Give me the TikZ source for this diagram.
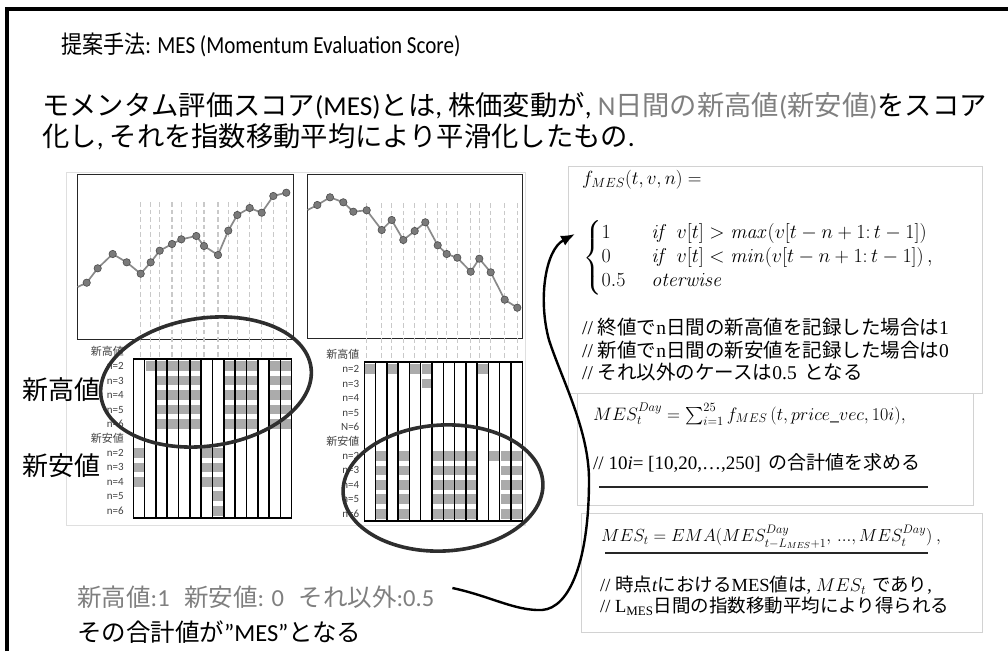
\RequirePackage{fix-cm}
\documentclass[tikz,border=0pt]{standalone}
\usepackage{amsmath}
\usepackage[no-math]{fontspec}
\setmainfont{Carlito}
\newfontfamily\jp{Noto Sans CJK JP}
\newfontfamily\ttlf[FakeStretch=0.86]{Carlito}
\newfontfamily\ttlj[FakeStretch=0.86]{Noto Sans CJK JP}
\newfontfamily\srf{Liberation Serif}
\usetikzlibrary{arrows.meta,calc}
\definecolor{txtgray}{HTML}{7F7F7F}
\definecolor{cellgray}{HTML}{ABABAB}
\definecolor{dashgray}{HTML}{C9C9C9}
\definecolor{ptfill}{HTML}{7A7A7A}
\definecolor{linegray}{HTML}{8A8A8A}
\definecolor{boxgray}{HTML}{D2D2D2}
\definecolor{lblgray}{HTML}{404040}
\newcommand{\fsz}[2]{\fontsize{#1}{#2}\selectfont}
\tikzset{
  txt/.style={inner sep=0pt, anchor=west},
  lbl/.style={inner sep=0pt, anchor=east, text=lblgray, font=\fsz{11}{12}},
  gline/.style={line width=1.5pt},
  cellfill/.style={fill=cellgray},
  dashv/.style={draw=dashgray, line width=1.3pt, dash pattern=on 4.5pt off 3pt},
  priceline/.style={draw=linegray, line width=1.7pt},
  dotpt/.style={fill=ptfill, draw=black!70, line width=0.6pt},
  ring/.style={draw=black!82, line width=3.6pt},
  chartbox/.style={draw=black!85, line width=1.2pt, inner sep=0pt, anchor=north west},
  fbox/.style={draw=boxgray, line width=0.9pt, fill=white, inner sep=0pt, anchor=north west},
  arrowc/.style={draw=black, line width=2.4pt, -{Latex[length=14pt,width=11pt]}},
  uline/.style={draw=black!85, line width=2.6pt},
}
\begin{document}
\begin{tikzpicture}[x=1pt,y=-1pt]
\useasboundingbox (0,0) rectangle (1008,651);
% frame
\draw[line width=4pt] (7,651) -- (7,9) -- (1008,9);

% headings
\node[txt, font=\fsz{24.5}{27}\ttlf] (title) at (61,45) {{\ttlj 提案手法}: MES (Momentum Evaluation Score)};
\node[txt, font=\fsz{27.3}{30}] (l2) at (42,106) {{\jp モメンタム評価スコア}(MES){\jp とは}, {\jp 株価変動が}, \textcolor{txtgray}{N{\jp 日間の新高値}({\jp 新安値})}{\jp をスコア}};
\node[txt, font=\fsz{27.3}{30}] (l3) at (42,137) {{\jp 化し}, {\jp それを指数移動平均により平滑化したもの}.};

% image panel
\draw[draw=gray!25, line width=0.6pt] (66,172) rectangle (525,525);

% ---- left chart
\node[chartbox, minimum width=216pt, minimum height=165pt] (chA) at (77,174) {};
\foreach \x in {140.7,150.7,159.7,172,181.3,196.3,204,218,228.3,237.3,249.7,261.7,273.3,286.3}
  \draw[dashv] (\x,202) -- (\x,359);
\draw[priceline] plot coordinates {(77.6,287) (86.7,282.7) (97.7,268.3) (112.7,254) (126.7,262.3) (140.7,273.7) (150.7,262.3) (159.7,250.7) (172,244) (181.3,239.3) (196.3,236) (204,246) (218,255) (228.3,230.7) (237.3,215) (249.7,208) (261.7,212.7) (273.3,196) (286.3,192.7)};
\foreach \x/\y in {86.7/282.7,97.7/268.3,112.7/254,126.7/262.3,140.7/273.7,150.7/262.3,159.7/250.7,172/244,181.3/239.3,196.3/236,204/246,218/255,228.3/230.7,237.3/215,249.7/208,261.7/212.7,273.3/196,286.3/192.7}
  \draw[dotpt] (\x,\y) circle[radius=3.7];

% left grid cells
\foreach \r/\cols in {0/{1,2,3,4,5,8,9,10,12,13},1/{2,3,4,5,8,9,10,12,13},2/{2,3,4,5,8,9,10,12,13},3/{2,3,4,5,8,9,10,12,13},4/{2,3,4,5,8,9,10,12,13},6/{0,6,7},7/{0,6,7},8/{0,6,7},9/{7},10/{7}}
  \foreach \c in \cols
    \fill[cellfill] ({133.3+11.314*\c+0.9},{359+14.45*\r+2.4}) rectangle ++(9.8,9.6);
\draw[gline] (133.3,359) rectangle (291.7,518);
\foreach \i in {1,...,13}
  \draw[gline] ({133.3+11.314*\i},359) -- ({133.3+11.314*\i},518);
\foreach \r/\t in {-1/{\jp 新高値},0/n=2,1/n=3,2/n=4,3/n=5,4/n=6,5/{\jp 新安値},6/n=2,7/n=3,8/n=4,9/n=5,10/n=6}
  \node[lbl] (lA\r) at (124,{359+14.45*(\r+0.5)}) {\t};

% ---- right chart
\node[chartbox, minimum width=215pt, minimum height=164pt] (chB) at (307,174) {};
\foreach \x in {366.7,381.7,391.7,403.3,414.7,425.3,437.7,446.7,457.3,470.7,479.3,490.7,504.7,517.3}
  \draw[dashv] (\x,203) -- (\x,362);
\draw[priceline] plot coordinates {(307.6,210) (317.3,205) (330,197.3) (343.3,202.3) (353.3,211.7) (366.7,210.3) (381.7,230) (391.7,220) (403.3,240) (414.7,231) (425.3,222.3) (437.7,245.3) (446.7,254) (457.3,257.7) (470.7,271.7) (479.3,258.7) (490.7,272.3) (504.7,299.7) (517.3,307.7)};
\foreach \x/\y in {317.3/205,330/197.3,343.3/202.3,353.3/211.7,366.7/210.3,381.7/230,391.7/220,403.3/240,414.7/231,425.3/222.3,437.7/245.3,446.7/254,457.3/257.7,470.7/271.7,479.3/258.7,490.7/272.3,504.7/299.7,517.3/307.7}
  \draw[dotpt] (\x,\y) circle[radius=3.7];

\foreach \r/\cols in {0/{0,2,4,5,10},1/{5},6/{1,3,6,7,8,9,11,12,13},7/{1,3,6,7,8,9,12,13},8/{1,3,6,7,8,9,12,13},9/{1,3,6,7,8,9,12,13},10/{1,3,6,7,8,9,12,13}}
  \foreach \c in \cols
    \fill[cellfill] ({364.3+11.286*\c+0.9},{362+14.45*\r+2.4}) rectangle ++(9.8,9.6);
\draw[gline] (364.3,362) rectangle (522.3,521);
\foreach \i in {1,...,13}
  \draw[gline] ({364.3+11.286*\i},362) -- ({364.3+11.286*\i},521);
\foreach \r/\t in {-1/{\jp 新高値},0/n=2,1/n=3,2/n=4,3/n=5,4/N=6,5/{\jp 新安値},6/n=2,7/n=3,8/n=4,9/n=5,10/n=6}
  \node[lbl] (lB\r) at (359.5,{362+14.45*(\r+0.5)}) {\t};

% ellipses
\draw[ring, rotate around={8:(206,382)}] (206,382) ellipse [x radius=106, y radius=64];
\draw[ring, rotate around={3:(443,488)}] (443,488) ellipse [x radius=100, y radius=63];

% big labels
\node[txt, font=\fsz{26}{28}] (bigH) at (22,390) {\jp 新高値};
\node[txt, font=\fsz{26}{28}] (bigL) at (22,466) {\jp 新安値};

% bottom text
\node[txt, font=\fsz{24.5}{27}, text=txtgray] (bt1) at (77,597) {{\jp 新高値}:1\hspace{9pt} {\jp 新安値}: 0\hspace{9pt} {\jp それ以外}:0.5};
\node[txt, font=\fsz{24.5}{27}] (bt2) at (77,632) {{\jp その合計値が}”MES”{\jp となる}};

% formula boxes
\node[fbox, minimum width=414pt, minimum height=227pt] (fb1) at (568,166) {};
\node[fbox, minimum width=396pt, minimum height=112pt] (fb2) at (577,393) {};
\node[fbox, minimum width=401pt, minimum height=119pt] (fb3) at (581,513) {};

\node[txt, font=\fsz{19}{22}] (f1) at (582,180) {$f_{MES}(t,v,n) =$};
\node[txt, font=\fsz{20}{20}] (f2) at (583,258) {$\begin{cases}1 & \hspace{6pt}\mathit{if}\ \ v[t] > \mathit{max}(v[t-n+1{:}\,t-1])\\ 0 & \hspace{6pt}\mathit{if}\ \ v[t] < \mathit{min}(v[t-n+1{:}\,t-1])\,,\\ 0.5 & \hspace{6pt}\mathit{oterwise}\end{cases}$};
\node[txt, font=\fsz{19.5}{22}\srf] (c1) at (582,327) {// {\jp 終値で}n{\jp 日間の新高値を記録した場合は}1};
\node[txt, font=\fsz{19.5}{22}\srf] (c2) at (582,350) {// {\jp 新値で}n{\jp 日間の新安値を記録した場合は}0};
\node[txt, font=\fsz{19.5}{22}\srf] (c3) at (582,372) {// {\jp それ以外のケースは}0.5\hspace{8pt}{\jp となる}};

\node[txt, font=\fsz{18}{21}] (f3) at (593,414) {$MES_t^{Day} = \sum_{i=1}^{25} f_{MES}\,(t, price\_vec, 10i),$};
\node[txt, font=\fsz{19}{22}\srf] (c4) at (593,463) {// 10\textit{i}= [10,20,…,250]\hspace{8pt}{\jp の合計値を求める}};
\draw[uline] (599,487) -- (928,487);

\node[txt, font=\fsz{17.5}{21}] (f4) at (601,537) {$MES_t = EMA(MES^{Day}_{t-L_{MES}+1},\,{\ldotp\!\ldotp\!\ldotp},MES^{Day}_t)\ ,$};
\draw[uline] (605,553) -- (928,553);
\node[txt, font=\fsz{18.5}{21}\srf] (c5) at (600,585) {// {\jp 時点}\textit{t}{\jp における}MES{\jp 値は}, $MES_t$\hspace{6pt}{\jp であり},};
\node[txt, font=\fsz{18.5}{21}\srf] (c6) at (600,606) {// L\textsubscript{MES}{\jp 日間の指数移動平均により得られる}};

% connector
\coordinate (arrS) at ($(bt1.east)+(18,-9)$);
\coordinate (arrE) at ($(fb1.north west)+(7,68)$);
\draw[arrowc] (arrS) .. controls (490,596) and (515,611) .. (542,610)
  .. controls (570,608) and (589,560) .. (589,480)
  .. controls (589,430) and (562,380) .. (549,340)
  .. controls (538,300) and (545,250) .. (arrE);
\end{tikzpicture}
\end{document}
